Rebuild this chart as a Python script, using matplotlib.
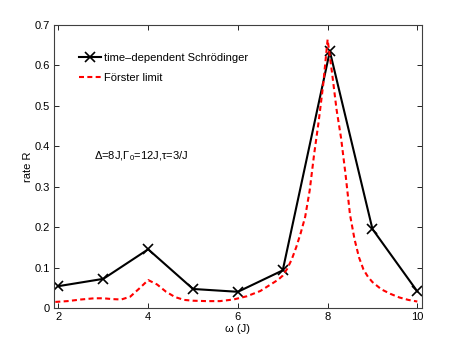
#! /usr/bin/env python3
# rate R vs omega: time-dependent Schroedinger vs Foerster limit

import numpy as np
import matplotlib
matplotlib.use("Agg")
import matplotlib.pyplot as plt
from matplotlib.ticker import FuncFormatter

# time-dependent Schroedinger (black crosses)
omega_tds = [2, 3, 4, 5, 6, 7, 8.05, 9, 10]
rate_tds  = [0.054, 0.072, 0.145, 0.047, 0.040, 0.093, 0.634, 0.195, 0.041]

# Foerster limit (red dashed)
omega_f = [1.93, 2.2, 2.5, 2.8, 3.0, 3.2, 3.4, 3.6, 3.8, 4.0, 4.2, 4.4, 4.6, 4.8,
           5.0, 5.3, 5.6, 5.9, 6.2, 6.5, 6.7, 6.9, 7.0, 7.1, 7.2, 7.3, 7.4, 7.5,
           7.6, 7.7, 7.8, 7.9, 8.0, 8.1, 8.2, 8.3, 8.4, 8.5, 8.6, 8.7, 8.8, 8.9,
           9.0, 9.2, 9.4, 9.6, 9.8, 10.0]
rate_f  = [0.015, 0.017, 0.021, 0.024, 0.024, 0.022, 0.021, 0.028, 0.048, 0.069,
           0.058, 0.040, 0.027, 0.020, 0.018, 0.017, 0.017, 0.021, 0.029, 0.042,
           0.056, 0.070, 0.080, 0.097, 0.120, 0.150, 0.185, 0.225, 0.290, 0.380,
           0.460, 0.550, 0.663, 0.580, 0.490, 0.420, 0.330, 0.230, 0.170, 0.125,
           0.095, 0.077, 0.064, 0.046, 0.035, 0.026, 0.020, 0.016]

xticks = [2, 4, 6, 8, 10]
yticks = [0, 0.1, 0.2, 0.3, 0.4, 0.5, 0.6, 0.7]


def main():
    plt.rcParams['font.family'] = ['Liberation Sans', 'DejaVu Sans']
    plt.rcParams['font.size'] = 8
    plt.rcParams['mathtext.fontset'] = 'custom'
    plt.rcParams['mathtext.rm'] = 'Liberation Sans'

    fig = plt.figure(figsize=(4.63, 3.51), dpi=100)
    ax = fig.add_axes([0.1166, 0.1225, 0.7944, 0.8075])

    ax.plot(omega_tds, rate_tds, 'k-', marker='x', markersize=7,
            markeredgewidth=1.2, linewidth=1.5, label="time\u2013dependent Schr\u00f6dinger")
    ax.plot(omega_f, rate_f, 'r--', linewidth=1.5, dashes=(2.4, 1.6), label="F\u00f6rster limit")

    ax.set_xlim(1.9, 10.1)
    ax.set_ylim(0, 0.7)
    ax.set_xticks(xticks)
    ax.set_yticks(yticks)
    ax.yaxis.set_major_formatter(FuncFormatter(lambda v, p: "0" if v == 0 else f"{v:.1f}"))
    ax.tick_params(direction='in', top=True, right=True, length=3.5, width=0.6,
                   labelsize=8, pad=3)
    for s in ax.spines.values():
        s.set_color('0.25')
        s.set_linewidth(0.8)

    ax.set_xlabel("\u03c9 (J)", fontsize=8, labelpad=1)
    ax.set_ylabel("rate R", fontsize=8, labelpad=1)

    ax.text(2.79, 0.375, "\u0394=8J,\u0393$_0$=12J,\u03c4=3/J", fontsize=8, va='center', ha='left')

    ax.legend(loc='upper left', bbox_to_anchor=(0.068, 0.90), frameon=False,
              borderpad=0, borderaxespad=0, handlelength=1.98, handletextpad=0.3,
              labelspacing=0.9, fontsize=8)

    fig.savefig("out.png", dpi=100)


if __name__ == "__main__":
    main()
